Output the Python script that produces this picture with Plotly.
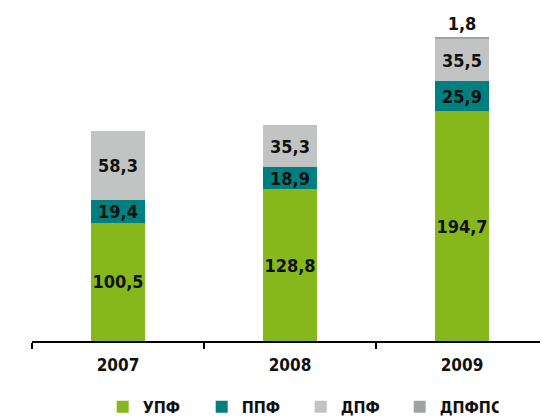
import plotly.graph_objects as go

years = ["2007", "2008", "2009"]
upf = [100.5, 128.8, 194.7]
ppf = [19.4, 18.9, 25.9]
dpf = [58.3, 35.3, 35.5]
dpfps = [None, None, 1.8]

series_names = ["УПФ", "ППФ", "ДПФ", "ДПФПС"]
colors = ["#86b81b", "#007f80", "#c2c3c3", "#a1a2a4"]

FONT = "DejaVu Sans Condensed, Liberation Sans Narrow, sans-serif"

fig = go.Figure()
for name, vals, col in zip(series_names, [upf, ppf, dpf, dpfps], colors):
    last = name == "ДПФПС"
    fig.add_trace(go.Bar(
        x=years, y=vals, name=name,
        marker=dict(color=col, line=dict(width=0)),
        texttemplate="%{y:.1f}",
        textposition="outside" if last else "inside",
        insidetextanchor="middle",
        textangle=0,
        constraintext="none",
        cliponaxis=False,
        textfont=dict(family=FONT, size=18, color="#111111", weight="bold"),
        hoverinfo="skip",
    ))

fig.update_layout(
    width=540, height=411,
    barmode="stack", bargap=0.69,
    separators=", ",
    paper_bgcolor="white", plot_bgcolor="white",
    margin=dict(l=24, r=0, t=12, b=78, autoexpand=False),
    font=dict(family=FONT, size=17, color="#111111", weight="bold"),
    showlegend=True,
    legend=dict(
        orientation="h", xanchor="left", yanchor="middle",
        x=0.137, y=-0.205,
        font=dict(family=FONT, size=16, color="#111111", weight="bold"),
        entrywidth=54, entrywidthmode="pixels",
        traceorder="normal",
        bgcolor="rgba(0,0,0,0)",
    ),
    xaxis=dict(
        type="category",
        showline=True, linecolor="black", linewidth=2,
        ticks="outside", ticklen=6, tickcolor="black", tickwidth=2,
        tickson="boundaries",
        tickfont=dict(family=FONT, size=17, color="#111111", weight="bold"),
        ticklabelstandoff=8,
        showgrid=False, zeroline=False,
        range=[-0.5, 2.5],
    ),
    yaxis=dict(
        range=[0, 272.3],
        visible=False, showgrid=False, zeroline=False,
    ),
)

fig.write_html("out.html")
